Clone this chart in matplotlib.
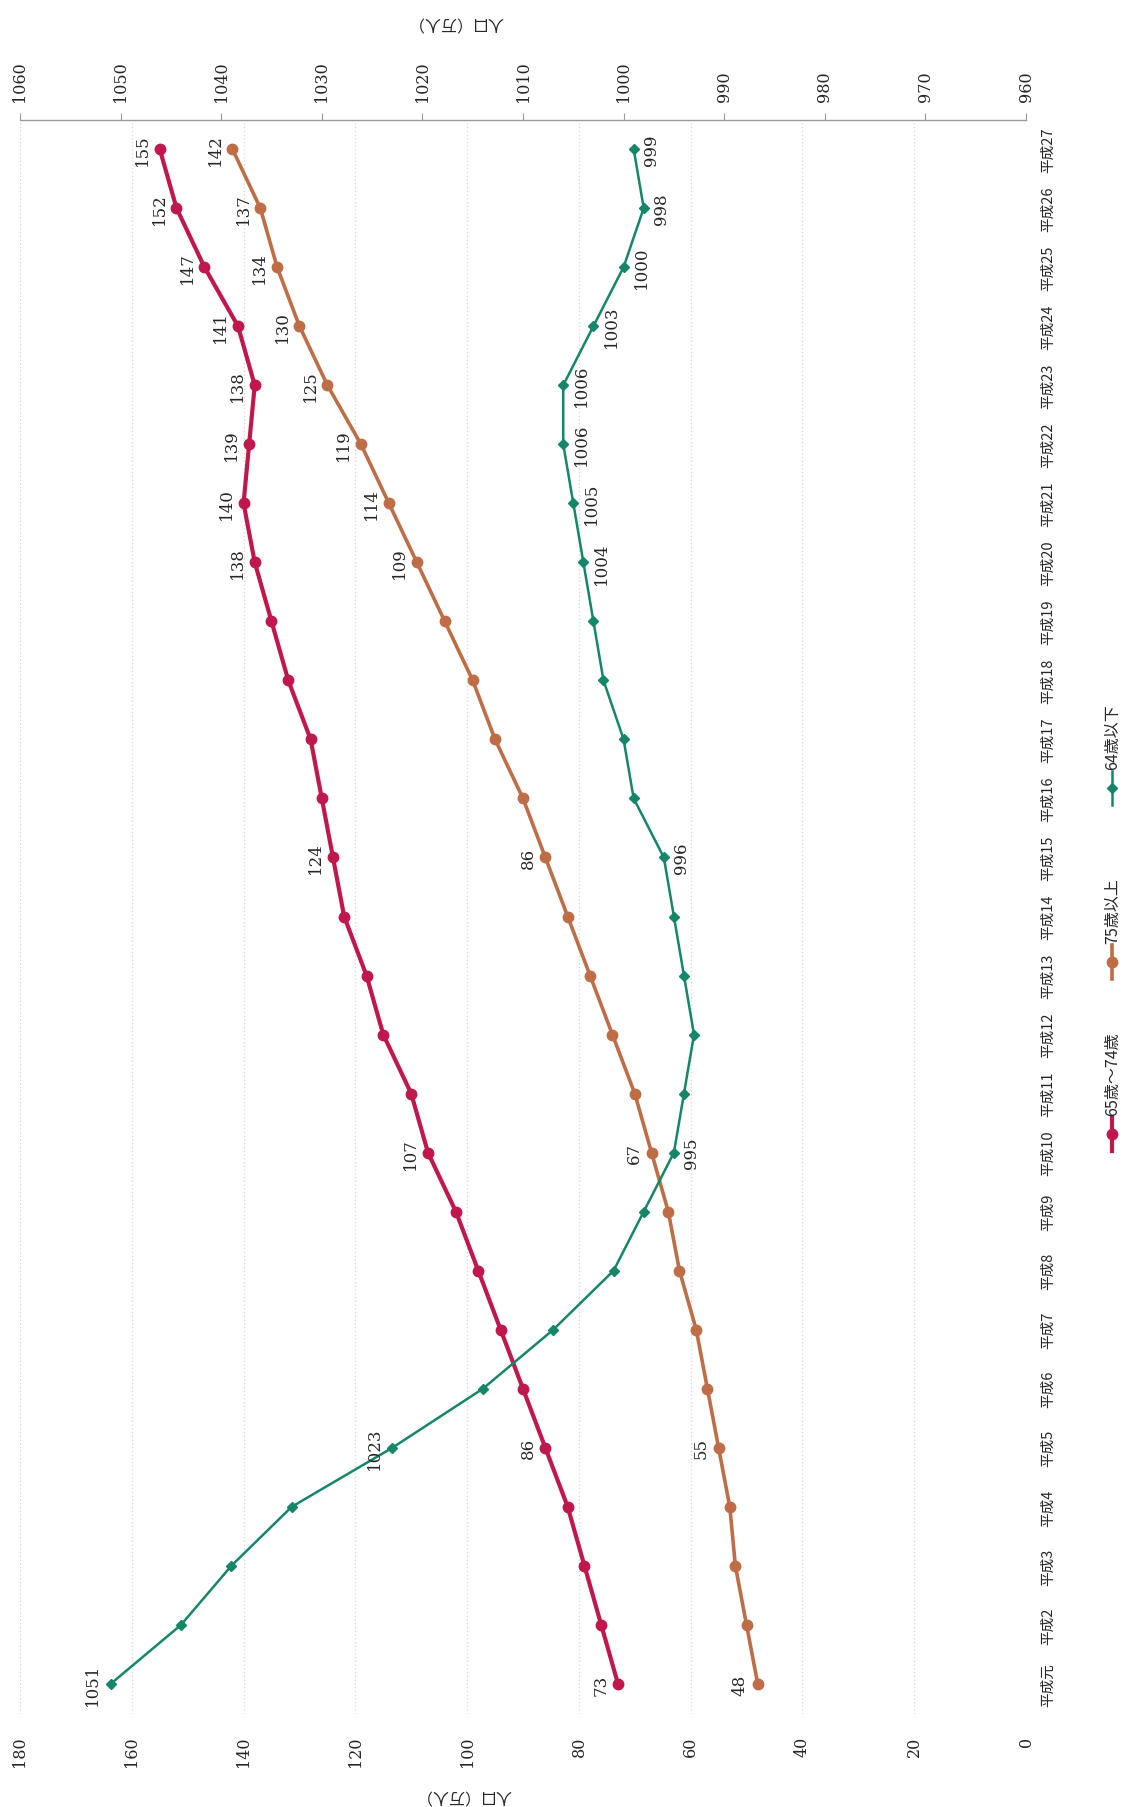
import numpy as np
import matplotlib
matplotlib.use('Agg')
import matplotlib.pyplot as plt
from matplotlib.lines import Line2D

# ---------------- data ----------------
categories = ['平成元', '平成2', '平成3', '平成4', '平成5', '平成6', '平成7', '平成8', '平成9',
              '平成10', '平成11', '平成12', '平成13', '平成14', '平成15', '平成16', '平成17',
              '平成18', '平成19', '平成20', '平成21', '平成22', '平成23', '平成24', '平成25',
              '平成26', '平成27']

age65_74 = [73, 76, 79, 82, 86, 90, 94, 98, 102, 107, 110, 115, 118, 122, 124, 126, 128,
            132, 135, 138, 140, 139, 138, 141, 147, 152, 155]
age75_up = [48, 50, 52, 53, 55, 57, 59, 62, 64, 67, 70, 74, 78, 82, 86, 90, 95,
            99, 104, 109, 114, 119, 125, 130, 134, 137, 142]
age64_down = [1051, 1044, 1039, 1033, 1023, 1014, 1007, 1001, 998, 995, 994, 993, 994, 995, 996,
              999, 1000, 1002, 1003, 1004, 1005, 1006, 1006, 1003, 1000, 998, 999]

series_names = ['65歳～74歳', '75歳以上', '64歳以下']

# indices of points that carry a data label
lab_65_74 = [0, 4, 9, 14, 19, 20, 21, 22, 23, 24, 25, 26]
lab_75_up = [0, 4, 9, 14, 19, 20, 21, 22, 23, 24, 25, 26]
lab_64_down = [0, 4, 9, 14, 19, 20, 21, 22, 23, 24, 25, 26]
lab_64_down_above = [0, 4]

left_ticks = list(range(0, 181, 20))
right_ticks = list(range(960, 1061, 10))
axis_title = '人口（万人）'

# ---------------- style ----------------
RED = '#C0174C'
BROWN = '#BF6D46'
GREEN = '#148669'
TXT = '#262626'
CJK = ['Noto Sans CJK JP', 'DejaVu Sans']
NUM = ['DejaVu Serif']

W, H = 1126, 1808
fig = plt.figure(figsize=(W / 100, H / 100), dpi=100)
fig.patch.set_facecolor('white')


def fx(px):
    return px / W


def fy(py):
    return 1 - py / H


ax = fig.add_axes([fx(20), fy(1714.5), 1006 / W, 1594 / H])
ypos = np.arange(len(categories))

ax.plot(age65_74, ypos, color=RED, lw=3, marker='o', ms=7.5, zorder=3)
ax.plot(age75_up, ypos, color=BROWN, lw=2.6, marker='o', ms=7.5, zorder=3)
ax.set_xlim(180, 0)
ax.set_ylim(-0.5, len(categories) - 0.5)

ax.set_xticks(left_ticks, [str(t) for t in left_ticks], rotation=90, fontfamily=NUM,
              fontsize=11.5, color=TXT)
ax.tick_params(axis='x', length=0, pad=16)
ax.grid(axis='x', color='#d4d4d4', linestyle=(0, (1, 2)), lw=0.9)
ax.get_xgridlines()[0].set_visible(False)
ax.set_axisbelow(True)

ax.yaxis.tick_right()
ax.set_yticks(ypos, categories, rotation=90, fontfamily=CJK, fontsize=10.5, color=TXT, va='center')
ax.tick_params(axis='y', length=0, pad=11)
for s in ax.spines.values():
    s.set_visible(False)

ax2 = ax.twiny()
ax2.plot(age64_down, ypos, color=GREEN, lw=1.8, marker='D', ms=5.5, zorder=3)
ax2.set_xlim(1060, 960)
ax2.set_xticks(right_ticks, [str(t) for t in right_ticks], rotation=90, fontfamily=NUM,
               fontsize=11.5, color=TXT)
ax2.tick_params(axis='x', direction='out', length=5, width=0.8, color='#9a9a9a', pad=8)
for k, s in ax2.spines.items():
    s.set_visible(k == 'top')
ax2.spines['top'].set_color('#9a9a9a')
ax2.spines['top'].set_linewidth(1.0)

# data labels
lab_kw = dict(textcoords='offset points', rotation=90, ha='center', va='center',
              fontsize=12, fontfamily=NUM, color=TXT)
for i in lab_65_74:
    ax.annotate(str(age65_74[i]), (age65_74[i], ypos[i]), xytext=(-12.5, 0), **lab_kw)
for i in lab_75_up:
    ax.annotate(str(age75_up[i]), (age75_up[i], ypos[i]), xytext=(-12.5, 0), **lab_kw)
for i in lab_64_down:
    off = -13 if i in lab_64_down_above else 13
    ax2.annotate(str(age64_down[i]), (age64_down[i], ypos[i]), xytext=(off, 0), **lab_kw)

# axis titles (upside down as in the rotated original)
fig.text(fx(455), fy(22), axis_title, rotation=180, ha='center', va='center',
         fontsize=11.5, fontfamily=CJK, color=TXT)
fig.text(fx(463), fy(1795), axis_title, rotation=180, ha='center', va='center',
         fontsize=11.5, fontfamily=CJK, color=TXT)

# legend (vertical, drawn manually)
legend_items = [(series_names[0], RED, 'o', 3, 7.5, 1135),
                (series_names[1], BROWN, 'o', 2.6, 7.5, 963),
                (series_names[2], GREEN, 'D', 1.8, 5.5, 789)]
lx = 1112
for name, col, mk, lw, ms, cy in legend_items:
    fig.add_artist(Line2D([fx(lx), fx(lx)], [fy(cy - 17), fy(cy + 17)], color=col, lw=lw,
                          transform=fig.transFigure))
    fig.add_artist(Line2D([fx(lx)], [fy(cy)], color=col, marker=mk, ms=ms, lw=0,
                          transform=fig.transFigure))
    fig.text(fx(lx + 1), fy(cy - 19), name, rotation=90, ha='center', va='bottom',
             fontsize=11.5, fontfamily=CJK, color=TXT)

fig.savefig('out.png', dpi=100, facecolor='white')
